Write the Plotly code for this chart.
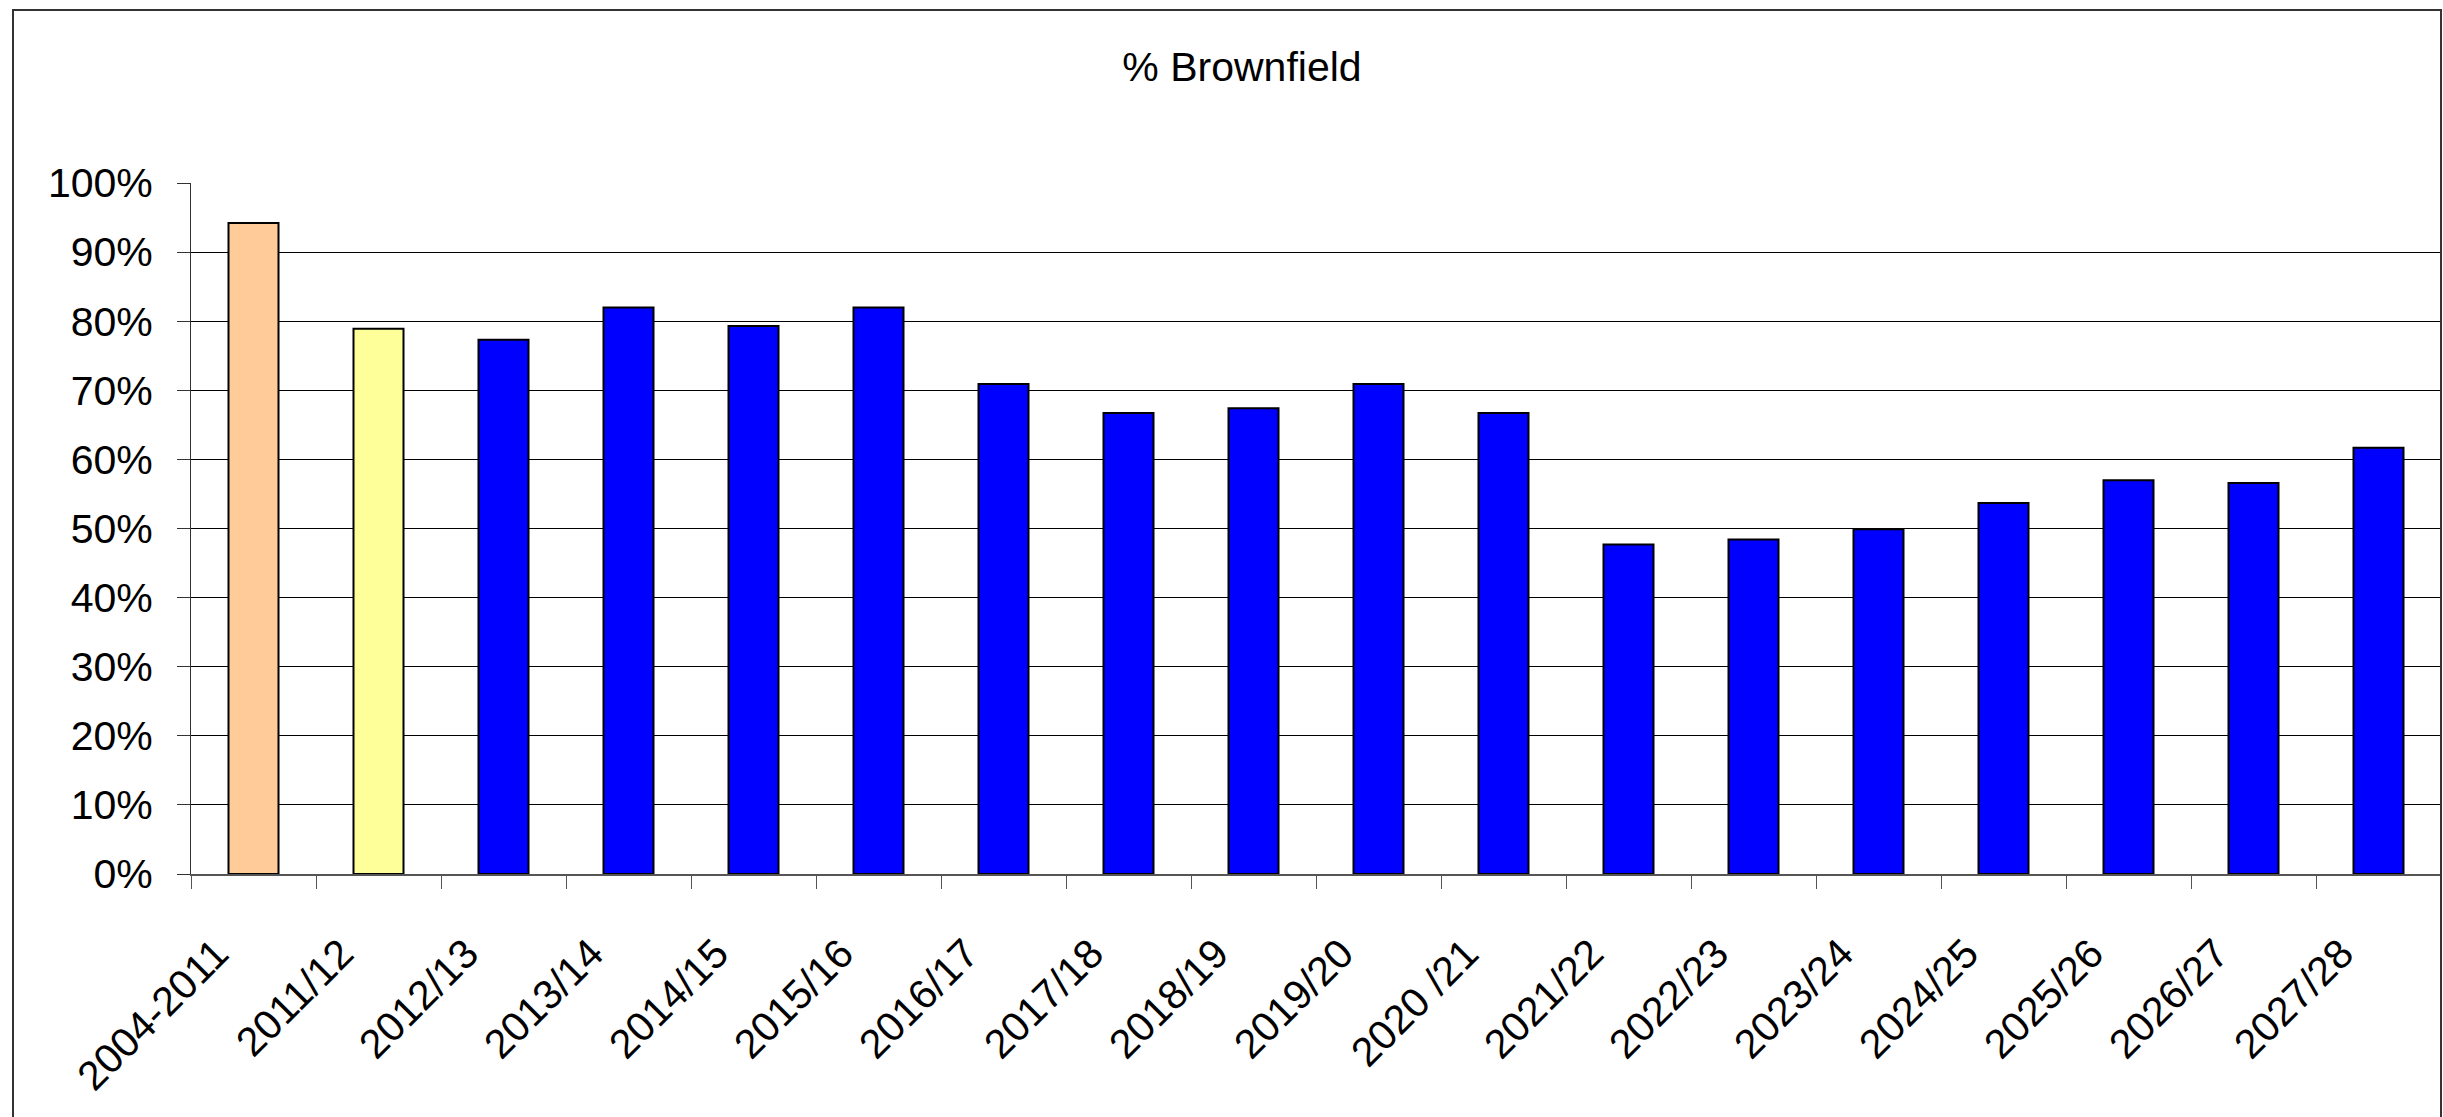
import plotly.graph_objects as go

# Share of housing completions on brownfield land, by period
periods = [
    "2004-2011", "2011/12", "2012/13", "2013/14", "2014/15", "2015/16",
    "2016/17", "2017/18", "2018/19", "2019/20", "2020 /21", "2021/22",
    "2022/23", "2023/24", "2024/25", "2025/26", "2026/27", "2027/28",
]
brownfield_pct = [
    94.2, 78.9, 77.3, 82.0, 79.3, 82.0,
    70.9, 66.7, 67.4, 70.9, 66.7, 47.7,
    48.4, 49.9, 53.7, 57.0, 56.6, 61.7,
]
# Cumulative past period, last monitoring year, then projected years
bar_colours = ["#FFCC99", "#FFFF99"] + ["#0000FF"] * (len(periods) - 2)

W, H = 2443, 1117
M_L, M_R, M_T, M_B = 191, 2, 183, 243
plot_w = W - M_L - M_R
plot_h = H - M_T - M_B

font_family = "Arial, 'Liberation Sans', sans-serif"

fig = go.Figure(
    go.Bar(
        x=periods,
        y=[v / 100 for v in brownfield_pct],
        marker=dict(color=bar_colours, line=dict(color="black", width=2)),
        hoverinfo="x+y",
    )
)


def px_x(px):
    return (px - M_L) / plot_w


def px_y(py):
    return (H - M_B - py) / plot_h


# Outer chart frame
fig.add_shape(
    type="rect", xref="paper", yref="paper",
    x0=px_x(13), x1=px_x(2441), y0=px_y(1130), y1=px_y(10),
    line=dict(color="#333333", width=2), fillcolor="rgba(0,0,0,0)",
    layer="above",
)

fig.update_layout(
    width=W, height=H,
    margin=dict(l=M_L, r=M_R, t=M_T, b=M_B, pad=0),
    paper_bgcolor="white", plot_bgcolor="white",
    showlegend=False,
    bargap=0.6,
    font=dict(family=font_family, color="black", size=40),
    title=dict(
        text="% Brownfield",
        x=1242 / W, xref="container", xanchor="center",
        y=1 - 67 / H, yref="container", yanchor="middle",
        font=dict(family=font_family, size=41, color="black"),
    ),
    xaxis=dict(
        type="category",
        tickangle=-45,
        tickson="boundaries",
        ticks="outside", ticklen=13, tickwidth=1, tickcolor="#555555",
        showline=True, linecolor="#555555", linewidth=2,
        showgrid=False,
        ticklabelstandoff=37,
        ticklabelshift=-37,
        tickfont=dict(size=41, color="black"),
    ),
    yaxis=dict(
        range=[0, 1],
        dtick=0.1,
        tickformat=".0%",
        ticks="outside", ticklen=13, tickwidth=1, tickcolor="#333333",
        showline=True, linecolor="#333333", linewidth=1,
        showgrid=True, gridcolor="#000000", gridwidth=1,
        zeroline=False,
        ticklabelstandoff=16,
        tickfont=dict(size=41, color="black"),
    ),
)

fig.write_html("out.html")
